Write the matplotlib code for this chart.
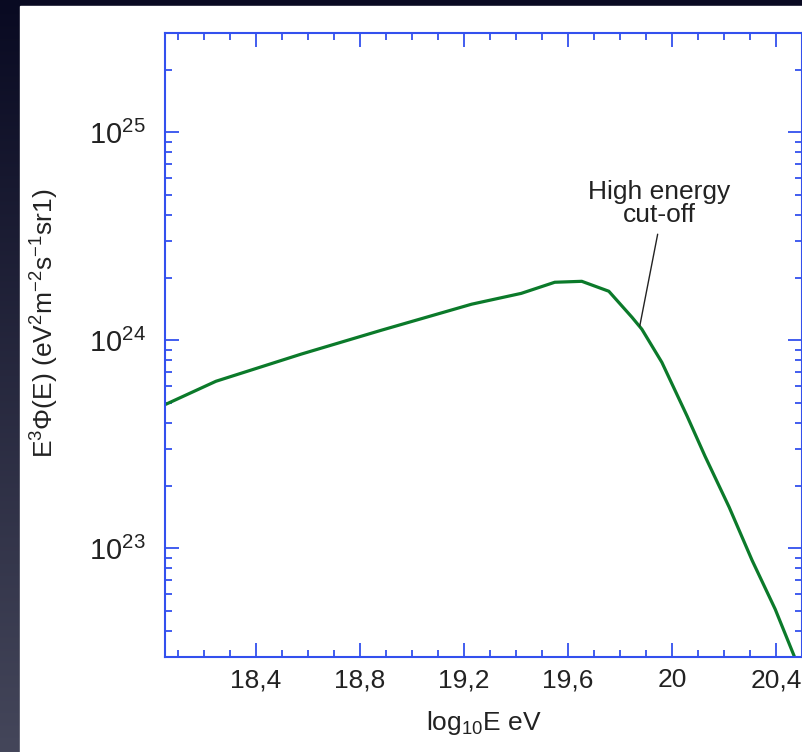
import numpy as np
import matplotlib
matplotlib.use("Agg")
import matplotlib.pyplot as plt
from matplotlib.ticker import FixedLocator, MultipleLocator, FuncFormatter, LogLocator
from matplotlib.patches import Rectangle

plt.rcParams["font.family"] = ["Liberation Sans", "DejaVu Sans"]
plt.rcParams["mathtext.fontset"] = "custom"
plt.rcParams["mathtext.rm"] = "Liberation Sans"
plt.rcParams["mathtext.it"] = "Liberation Sans"

# spectrum
log_energy = [18.053, 18.246, 18.573, 18.882, 19.229, 19.42, 19.549, 19.653,
              19.757, 19.846, 19.884, 19.961, 20.058, 20.127, 20.220, 20.308,
              20.397, 20.470]
e3_flux = [4.92e23, 6.35e23, 8.57e23, 1.117e24, 1.49e24, 1.68e24, 1.90e24,
           1.92e24, 1.72e24, 1.29e24, 1.13e24, 7.83e23, 4.32e23, 2.77e23,
           1.574e23, 8.75e22, 5.09e22, 3.03e22]

x_ticks = [18.4, 18.8, 19.2, 19.6, 20.0, 20.4]
cutoff_point = (19.876, 1.17e24)
cutoff_label_pos = (19.95, 3.49e24)

BLUE = "#3350ee"
TEXT = "#222222"

fig = plt.figure(figsize=(8.03, 7.52), dpi=100)

# dark backdrop with a white panel
bg = fig.add_axes([0, 0, 1, 1], zorder=-10)
grad = np.linspace(0, 1, 256).reshape(-1, 1)
bg.imshow(grad, aspect="auto", cmap=matplotlib.colors.LinearSegmentedColormap.from_list(
    "bg", ["#090a22", "#44465a"]), extent=[0, 1, 0, 1], origin="upper")
bg.add_patch(Rectangle((20 / 803, 0), 1, 1 - 6 / 752, color="white", zorder=2))
bg.set_xlim(0, 1)
bg.set_ylim(0, 1)
bg.axis("off")

ax = fig.add_axes([165 / 803, 1 - 657 / 752, 637 / 803, 624 / 752])
ax.plot(log_energy, e3_flux, color="#0b7a2a", lw=2.3, solid_capstyle="round")
ax.set_yscale("log")
ax.set_xlim(18.05, 20.5)
ax.set_ylim(3e22, 3e25)

ax.xaxis.set_major_locator(FixedLocator(x_ticks))
ax.xaxis.set_minor_locator(MultipleLocator(0.1))
ax.xaxis.set_major_formatter(FuncFormatter(lambda v, p: f"{v:g}".replace(".", ",")))
ax.yaxis.set_major_locator(LogLocator(base=10, numticks=10))
ax.yaxis.set_minor_locator(LogLocator(base=10, subs=np.arange(2, 10), numticks=20))

for s in ax.spines.values():
    s.set_color(BLUE)
    s.set_linewidth(1.5)
ax.tick_params(which="both", direction="in", top=True, right=True, color=BLUE,
               labelcolor=TEXT, labelsize=19, pad=8)
ax.tick_params(which="major", length=10, width=1.3)
ax.tick_params(which="minor", length=5, width=1.3)
ax.tick_params(axis="y", labelsize=21, pad=14)

ax.set_xlabel("log$_{10}$E eV", fontsize=19, color=TEXT, labelpad=12)
fig.text(45 / 803, 1 - 323 / 752,
         r"E$^3$$\Phi$(E) (eV$^2$m$^{-2}$s$^{-1}$sr1)",
         rotation=90, ha="center", va="center", fontsize=19, color=TEXT)

ax.annotate("High energy\ncut-off", xy=cutoff_point, xytext=cutoff_label_pos,
            ha="center", va="bottom", fontsize=19, color=TEXT, linespacing=0.95,
            arrowprops=dict(arrowstyle="-", color="#222222", lw=1,
                            relpos=(0.5, 0), shrinkA=3, shrinkB=0))

fig.savefig("out.png", dpi=100)
